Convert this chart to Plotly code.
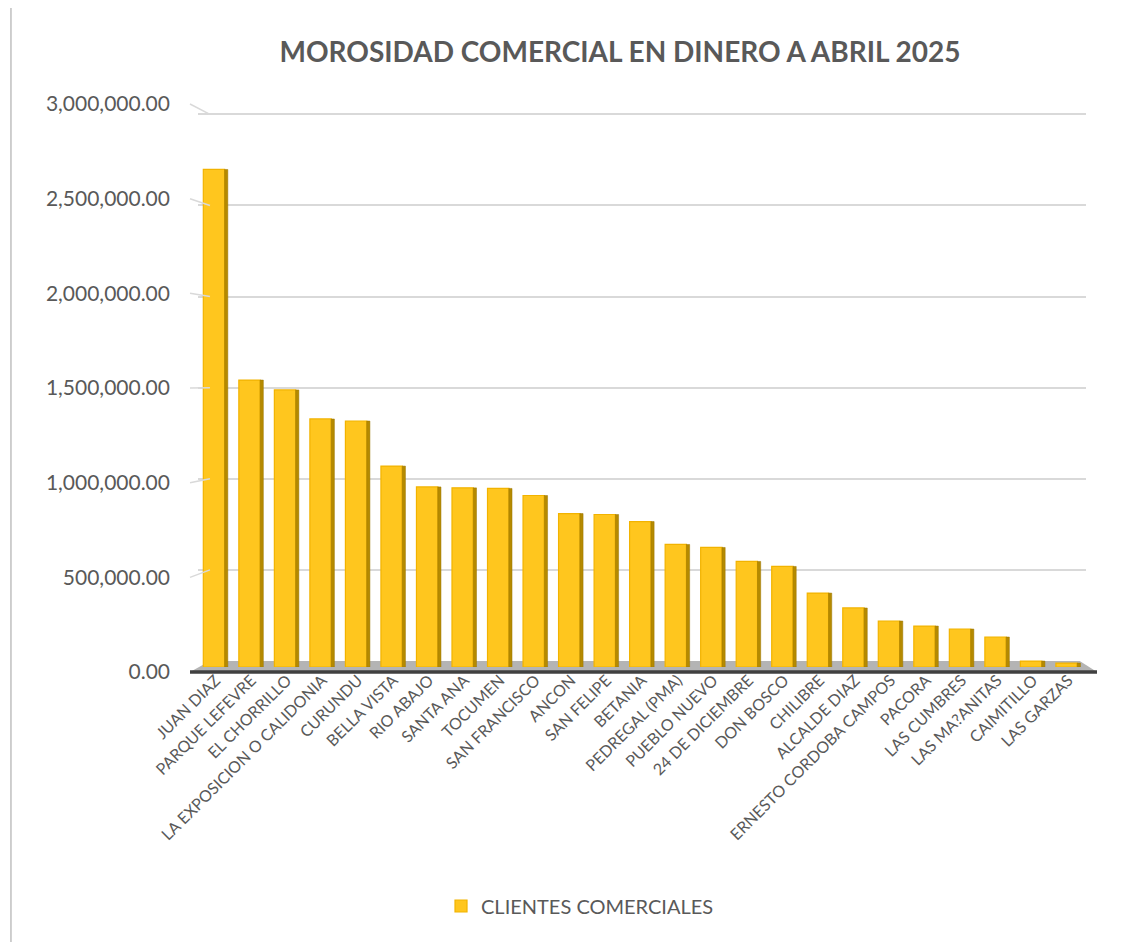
import plotly.graph_objects as go

# morosidad comercial por corregimiento
corregimientos = [
    "JUAN DIAZ", "PARQUE LEFEVRE", "EL CHORRILLO", "LA EXPOSICION O CALIDONIA",
    "CURUNDU", "BELLA VISTA", "RIO ABAJO", "SANTA ANA", "TOCUMEN",
    "SAN FRANCISCO", "ANCON", "SAN FELIPE", "BETANIA", "PEDREGAL (PMA)",
    "PUEBLO NUEVO", "24 DE DICIEMBRE", "DON BOSCO", "CHILIBRE", "ALCALDE DIAZ",
    "ERNESTO CORDOBA CAMPOS", "PACORA", "LAS CUMBRES", "LAS MA?ANITAS",
    "CAIMITILLO", "LAS GARZAS",
]
morosidad = [
    2672000, 1541000, 1488000, 1332000, 1321000, 1079000, 967000, 962000,
    959000, 921000, 824000, 819000, 781000, 658000, 642000, 567000, 540000,
    397000, 317000, 247000, 220000, 204000, 161000, 32000, 21000,
]
y_ticks = [0, 500000, 1000000, 1500000, 2000000, 2500000, 3000000]

font_gray = "#595959"
y_max = 3000000
y_top = 3008000            # un poco mas para que se vea la linea de 3M
pared = [0.0194, 0.9843]   # pared trasera (lineas de cuadricula)
frente = [0.0088, 0.9923]  # plano de las columnas
x_pared = 0.022            # borde izquierdo de la pared trasera (paper)

fig = go.Figure()

# trazas invisibles para que se dibujen los ejes de cuadricula y etiquetas
fig.add_trace(go.Scatter(
    x=corregimientos[:1], y=y_ticks[:1], yaxis="y",
    mode="markers", marker=dict(opacity=0),
    showlegend=False, hoverinfo="skip",
))
fig.add_trace(go.Scatter(
    x=corregimientos[:1], y=y_ticks[:1], yaxis="y2",
    mode="markers", marker=dict(opacity=0),
    showlegend=False, hoverinfo="skip",
))
# cara frontal de las columnas
fig.add_trace(go.Bar(
    x=corregimientos, y=morosidad, yaxis="y3",
    name="CLIENTES COMERCIALES",
    marker=dict(color="#FFC61E", line=dict(color="#F2B300", width=1.2)),
    width=0.6, offset=-0.35,
))
# cara lateral (sombra) para simular el 3D
fig.add_trace(go.Bar(
    x=corregimientos, y=morosidad, yaxis="y3",
    showlegend=False, hoverinfo="skip",
    marker=dict(color="#B58A00", line=dict(color="#9C7600", width=0.5)),
    width=0.09, offset=0.25,
))

shapes = [
    # piso gris
    dict(type="path", xref="paper", yref="paper",
         path="M 0 0 L 1 0 L 0.981 %.4f L %.3f %.4f Z" % (pared[0], x_pared, pared[0]),
         fillcolor="#B4B4B4", line=dict(width=0), layer="below"),
    # borde frontal oscuro del piso
    dict(type="line", xref="paper", yref="paper", x0=0, x1=1, y0=0, y1=0,
         line=dict(color="#404040", width=3.5)),
    # bordes laterales del area del grafico
    dict(type="line", xref="paper", yref="paper", x0=-0.1974, x1=-0.1974,
         y0=-0.5, y1=1.3, line=dict(color="#BFBFBF", width=1.5)),
    dict(type="line", xref="paper", yref="paper", x0=1.0463, x1=1.0463,
         y0=-0.5, y1=1.3, line=dict(color="#BFBFBF", width=1.5)),
]
# aristas de la pared lateral: de la etiqueta (frente) a la linea de fondo
for v in y_ticks[1:]:
    y_back = pared[0] + v / y_top * (pared[1] - pared[0])
    shapes.append(dict(type="line", xref="paper", yref="paper",
                       x0=0, x1=x_pared, y0=v / y_max, y1=y_back,
                       line=dict(color="#D9D9D9", width=1.5)))

fig.update_layout(
    width=1145, height=942,
    barmode="overlay",
    paper_bgcolor="white", plot_bgcolor="rgba(0,0,0,0)",
    margin=dict(l=182, r=56, t=96, b=278),
    font=dict(family="Lato, 'Open Sans', sans-serif", color=font_gray),
    title=dict(
        text="<b>MOROSIDAD COMERCIAL EN DINERO A ABRIL 2025</b>",
        x=0.5345, xanchor="center", xref="container",
        y=0.953, yanchor="middle", yref="container",
        font=dict(size=28, color=font_gray),
    ),
    showlegend=True,
    legend=dict(
        orientation="h", x=0.43, xanchor="center", y=-0.412, yanchor="middle",
        font=dict(size=20, color=font_gray), traceorder="normal",
    ),
    xaxis=dict(
        domain=[0.0088, 0.988], anchor="y3",
        tickangle=-45, tickfont=dict(size=16, color=font_gray),
        showgrid=False, showline=False, ticks="", range=[-0.5, 24.5],
    ),
    # pared trasera: lineas de cuadricula
    yaxis=dict(
        domain=pared, range=[0, y_top], tickvals=y_ticks[1:],
        showticklabels=False,
        showgrid=True, gridcolor="#D9D9D9", gridwidth=1.5,
        zeroline=False, showline=False, ticks="",
    ),
    # plano frontal: etiquetas del eje
    yaxis2=dict(
        anchor="free", position=0, side="left", domain=[0, 1],
        range=[0, y_max], tickvals=y_ticks,
        tickformat=",.2f", tickfont=dict(size=21, color=font_gray),
        showgrid=False, zeroline=False, showline=False, ticks="",
        ticklabelstandoff=20,
    ),
    # plano de las columnas
    yaxis3=dict(
        anchor="x", domain=frente, range=[0, y_max],
        showticklabels=False, showgrid=False, zeroline=False,
        showline=False, ticks="",
    ),
    shapes=shapes,
)

fig.write_html("out.html")
